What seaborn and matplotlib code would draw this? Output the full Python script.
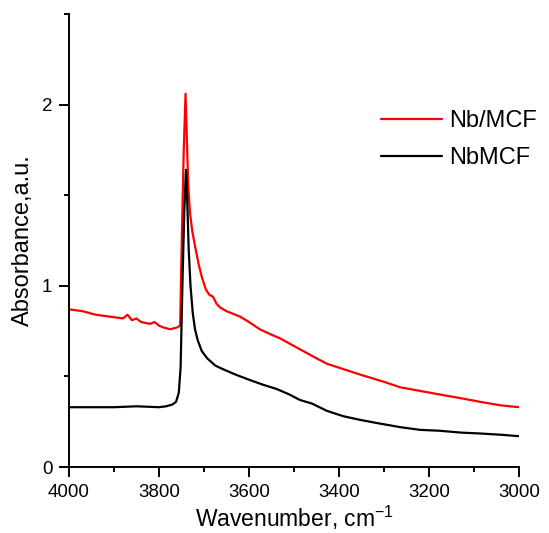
import matplotlib
matplotlib.use("Agg")
import matplotlib.pyplot as plt
from matplotlib.ticker import MultipleLocator
from matplotlib.lines import Line2D
import seaborn as sns
import pandas as pd

# Nb/MCF (red)
wn_red = [4000, 3970, 3940, 3910, 3880, 3870, 3860, 3850, 3840, 3820, 3810, 3800,
          3790, 3775, 3760, 3753, 3749, 3745, 3741, 3738, 3735, 3731, 3726, 3720,
          3712, 3705, 3696, 3688, 3680, 3672, 3664, 3650, 3640, 3620, 3600, 3576,
          3550, 3531, 3487, 3450, 3427, 3390, 3353, 3300, 3264, 3220, 3176, 3130,
          3087, 3040, 3000]
abs_red = [0.87, 0.86, 0.84, 0.83, 0.82, 0.84, 0.81, 0.82, 0.80, 0.79, 0.80, 0.78,
           0.77, 0.76, 0.77, 0.78, 1.30, 1.75, 2.06, 1.80, 1.55, 1.40, 1.30, 1.22,
           1.12, 1.05, 0.98, 0.95, 0.94, 0.90, 0.88, 0.86, 0.85, 0.83, 0.80, 0.76,
           0.73, 0.71, 0.65, 0.60, 0.57, 0.54, 0.51, 0.47, 0.44, 0.42, 0.40, 0.38,
           0.36, 0.34, 0.33]

# NbMCF (black)
wn_blk = [4000, 3950, 3900, 3850, 3800, 3784, 3770, 3762, 3756, 3752, 3748, 3744,
          3740, 3737, 3734, 3730, 3725, 3720, 3714, 3705, 3693, 3675, 3658, 3630,
          3598, 3570, 3538, 3510, 3487, 3460, 3427, 3390, 3353, 3310, 3264, 3220,
          3176, 3130, 3087, 3040, 3000]
abs_blk = [0.33, 0.33, 0.33, 0.335, 0.33, 0.335, 0.345, 0.36, 0.41, 0.55, 1.00, 1.40,
           1.64, 1.45, 1.20, 1.00, 0.85, 0.76, 0.70, 0.64, 0.60, 0.56, 0.54, 0.51,
           0.48, 0.455, 0.43, 0.40, 0.37, 0.35, 0.31, 0.28, 0.26, 0.24, 0.22, 0.205,
           0.20, 0.19, 0.185, 0.178, 0.17]

labels = ["Nb/MCF", "NbMCF"]
colors = ["#ff0000", "#000000"]

df = pd.concat([
    pd.DataFrame({"wn": wn_red, "a": abs_red, "s": labels[0]}),
    pd.DataFrame({"wn": wn_blk, "a": abs_blk, "s": labels[1]}),
])

sns.set_style("ticks")
plt.rcParams["font.family"] = ["Liberation Sans", "DejaVu Sans"]
plt.rcParams["text.color"] = "black"
plt.rcParams["axes.labelcolor"] = "black"
plt.rcParams["xtick.color"] = "black"
plt.rcParams["ytick.color"] = "black"
plt.rcParams["mathtext.fontset"] = "custom"
plt.rcParams["mathtext.rm"] = "Liberation Sans"

fig = plt.figure(figsize=(5.49, 5.33), dpi=100)
ax = fig.add_axes([69/549, 66/533, 450/549, 453/533])

sns.lineplot(data=df, x="wn", y="a", hue="s", palette=dict(zip(labels, colors)),
             estimator=None, linewidth=1.6, ax=ax, legend=False)

ax.set_xlim(4000, 3000)
ax.set_ylim(0, 2.5)
ax.xaxis.set_major_locator(MultipleLocator(200))
ax.xaxis.set_minor_locator(MultipleLocator(100))
ax.yaxis.set_major_locator(MultipleLocator(1))
ax.yaxis.set_minor_locator(MultipleLocator(0.5))
ax.tick_params(which="major", direction="out", length=7, width=1.4, labelsize=13.5,
               pad=5)
ax.tick_params(which="minor", direction="out", length=3.5, width=1.4)
for side in ["top", "right"]:
    ax.spines[side].set_visible(False)
for side in ["left", "bottom"]:
    ax.spines[side].set_linewidth(1.4)
    ax.spines[side].set_color("black")

ax.set_xlabel("Wavenumber, cm$^{\\mathrm{-1}}$", fontsize=16.5, labelpad=2)
ax.set_ylabel("Absorbance,a.u.", fontsize=17, labelpad=6)

handles = [Line2D([], [], color=c, lw=1.6) for c in colors]
ax.legend(handles, labels, loc="center left", bbox_to_anchor=(369/549, 1 - 139.5/533),
          bbox_transform=fig.transFigure, frameon=False, fontsize=17, borderpad=0,
          handlelength=2.6, handletextpad=0.3, labelspacing=0.65)

fig.savefig("out.png", dpi=100)
